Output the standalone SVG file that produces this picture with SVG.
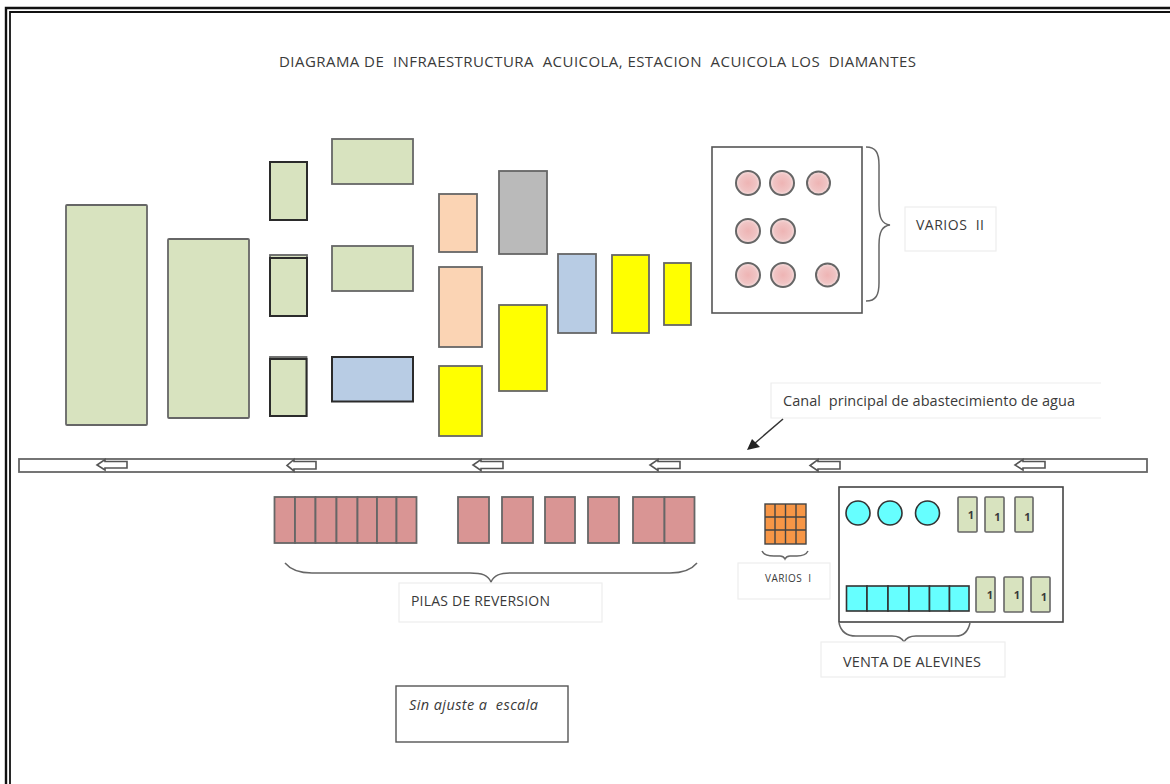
<svg xmlns="http://www.w3.org/2000/svg" width="1170" height="784" viewBox="0 0 1170 784">
<defs><radialGradient id="pink"><stop offset="0" stop-color="#eeb4b4"/><stop offset="0.7" stop-color="#f0c4c4"/><stop offset="1" stop-color="#f6e0e0"/></radialGradient></defs>
<style>
text{font-family:"Open Sans","Liberation Sans",sans-serif;fill:#3a3a3a;white-space:pre}
.b{stroke:#666;stroke-width:1.8}
.d{stroke:#2b2b2b;stroke-width:2}
.g{fill:#d8e3bf}.o{fill:#fbd4b4}.y{fill:#ffff00}.bl{fill:#b8cce4}.r{fill:#d99594}
.c{fill:url(#pink);stroke:#666;stroke-width:2}
.t{fill:#66ffff;stroke:#333;stroke-width:1.6}
.u{fill:#fff;stroke:#ededed;stroke-width:1.2}
.br{fill:none;stroke:#666;stroke-width:1.5}
.a{fill:#fff;stroke:#555;stroke-width:1.6}
.n{fill:#d8e3bf;stroke:#666;stroke-width:1.6}
.s{font-size:11px;font-weight:700;text-anchor:middle}
</style>
<rect width="1170" height="784" fill="#fff"/>
<g id="frame" fill="none" stroke="#111"><path d="M6 784V8H1170" stroke-width="2.400"/><path d="M10 784V12H1170" stroke-width="1.800"/></g>
<text id="title" x="279" y="67" font-size="15" textLength="637">DIAGRAMA DE  INFRAESTRUCTURA  ACUICOLA, ESTACION  ACUICOLA LOS  DIAMANTES</text>
<g id="green-large"><rect class="g b" x="66" y="205" width="81" height="220" rx="1"/><rect class="g b" x="168" y="239" width="81" height="179" rx="1"/></g>
<g id="green-small"><rect class="g d" x="270" y="162" width="37" height="58"/><rect class="g b" x="270" y="255" width="37" height="61"/><rect class="g d" x="270" y="258" width="37" height="58"/><rect class="g b" x="270" y="357" width="36.500" height="59"/><rect class="g d" x="270" y="359" width="36.500" height="57" stroke-width="1.4"/></g>
<g id="green-wide"><rect class="g b" x="332" y="139" width="81" height="45"/><rect class="g b" x="332" y="246" width="81" height="45"/></g>
<g id="blue-wide"><rect class="bl d" x="332" y="357" width="81" height="44.500"/></g>
<g id="orange"><rect class="o b" x="439" y="194" width="38" height="58"/><rect class="o b" x="439" y="267" width="43" height="80"/></g>
<g id="yellow"><rect class="y b" x="439" y="366" width="43" height="70"/><rect class="y b" x="499" y="305" width="48" height="86"/><rect class="y b" x="612" y="255" width="37" height="78"/><rect class="y b" x="664" y="263" width="27" height="62"/></g>
<g id="gray"><rect fill="#bababa" class="b" x="499" y="171" width="48" height="83"/></g>
<g id="blue-tall"><rect class="bl b" x="558" y="254" width="38" height="79"/></g>
<g id="varios-ii-box"><rect fill="#fff" stroke="#555" stroke-width="1.6" x="712" y="147" width="150" height="166"/>
<circle class="c" cx="748" cy="183" r="12"/><circle class="c" cx="782" cy="183" r="12"/><circle class="c" cx="818.500" cy="183" r="11.500"/><circle class="c" cx="748" cy="231" r="12"/><circle class="c" cx="783" cy="231" r="12"/><circle class="c" cx="748" cy="275" r="12"/><circle class="c" cx="783" cy="275" r="12"/><circle class="c" cx="827.500" cy="275" r="11.500"/></g>
<path id="brace-ii" class="br" d="M866 147C876 147 879 153 879 165V205C879 218 882 224 890 225C882 226 879 232 879 245V283C879 295 876 301 866 301"/>
<g id="varios-ii"><rect class="u" x="905" y="207" width="91" height="44"/><text x="916" y="230" font-size="14" textLength="68">VARIOS  II</text></g>
<g id="canal-label"><path fill="#fff" stroke="#ededed" stroke-width="1.200" d="M1101 383H771V418H1101"/><text x="783" y="406" font-size="14.500" textLength="292">Canal  principal de abastecimiento de agua</text></g>
<g id="connectors"><path d="M783 419L754 444" stroke="#333" stroke-width="1.500" fill="none"/><path d="M747 450L752 439L760 447Z" fill="#222"/></g>
<g id="canal"><rect fill="#fff" stroke="#666" stroke-width="1.800" x="19" y="459" width="1128" height="13"/>
<path id="f1" class="a" d="M127 461.500H105V459.500L97 465L105 470V468H127Z"/><path id="f2" class="a" d="M316 461.500H294V459.500L287 465.500L294 471V469H316Z"/><path id="f3" class="a" d="M503 461.500H481V459.500L473 465L481 470.500V468.500H503Z"/><path id="f4" class="a" d="M680 461.500H658V459.500L650 465L658 470.500V468.500H680Z"/><path id="f5" class="a" d="M840 461.500H818V459.500L810 465.500L818 471V469H840Z"/><path id="f6" class="a" d="M1045 461.500H1023V459.500L1015 465L1023 470V468H1045Z"/></g>
<g id="pilas"><rect class="r b" x="274.500" y="497" width="20.500" height="46"/><rect class="r b" x="295" y="497" width="20.500" height="46"/><rect class="r b" x="315.500" y="497" width="21" height="46"/><rect class="r b" x="336.500" y="497" width="21" height="46"/><rect class="r b" x="357.500" y="497" width="19.500" height="46"/><rect class="r b" x="377" y="497" width="19.500" height="46"/><rect class="r b" x="396.500" y="497" width="20" height="46"/><rect class="r b" x="458" y="497" width="31" height="46"/><rect class="r b" x="502" y="497" width="31" height="46"/><rect class="r b" x="545" y="497" width="30" height="46"/><rect class="r b" x="588" y="497" width="31" height="46"/><rect class="r b" x="633" y="497" width="31.500" height="46"/><rect class="r b" x="664.500" y="497" width="30" height="46"/></g>
<path id="brace-pilas" class="br" d="M285 563C290 569 298 573 312 573H470C482 573 488 575 491 582C494 575 500 573 512 573H670C684 573 692 569 697 563"/>
<g id="varios-i-grid"><rect fill="#f79646" stroke="#444" stroke-width="1.400" x="765" y="504" width="41" height="40"/><path fill="none" stroke="#444" stroke-width="1.400" d="M775 504V544M785.500 504V544M796 504V544M765 517H806M765 530H806"/></g>
<path id="brace-i" class="br" d="M762 551C764 555 768 556 774 556H780C783 556 784 557 785 559C786 557 787 556 790 556H797C802 556 806 555 808 551"/>
<g id="varios-i"><rect class="u" x="738" y="563" width="92" height="36"/><text x="765" y="582" font-size="10" textLength="46">VARIOS  I</text></g>
<g id="alevines-box"><rect fill="#fff" stroke="#444" stroke-width="1.600" x="839" y="487" width="224" height="135"/>
<circle class="t" cx="858" cy="513" r="12"/><circle class="t" cx="890" cy="513" r="12"/><circle class="t" cx="927.500" cy="513" r="12"/>
<rect class="t" x="846.500" y="586" width="20.500" height="25"/><rect class="t" x="867" y="586" width="21" height="25"/><rect class="t" x="888" y="586" width="21" height="25"/><rect class="t" x="909" y="586" width="20.500" height="25"/><rect class="t" x="929.500" y="586" width="20" height="25"/><rect class="t" x="949.500" y="586" width="19.500" height="25"/>
<rect class="n" x="958" y="497" width="19" height="35" rx="1"/><rect class="n" x="985" y="497" width="19" height="35" rx="1"/><rect class="n" x="1015" y="497" width="18" height="35" rx="1"/><rect class="n" x="976" y="577" width="19" height="35" rx="1"/><rect class="n" x="1004" y="577" width="19" height="35" rx="1"/><rect class="n" x="1031" y="577" width="19" height="35" rx="1"/>
<text class="s" x="971" y="519">1</text><text class="s" x="997.500" y="521">1</text><text class="s" x="1027.500" y="521">1</text><text class="s" x="990" y="599">1</text><text class="s" x="1017" y="599">1</text><text class="s" x="1044" y="601">1</text></g>
<path id="brace-alevines" class="br" d="M839 623C841 632 846 636 856 636H892C898 636 902 638 904 642C906 638 910 636 916 636H956C964 636 968 632 970 623"/>
<g id="venta"><rect class="u" x="821" y="642" width="184" height="35"/><text x="843" y="667" font-size="14.500" textLength="138">VENTA DE ALEVINES</text></g>
<g id="pilas-label"><rect class="u" x="399" y="583" width="203" height="39"/><text x="411" y="606" font-size="14" textLength="139">PILAS DE REVERSION</text></g>
<g id="escala"><rect fill="#fff" stroke="#555" stroke-width="1.400" x="396" y="686" width="172" height="56"/><text x="409" y="710" font-size="14.500" font-style="italic" textLength="129">Sin ajuste a  escala</text></g>
</svg>
